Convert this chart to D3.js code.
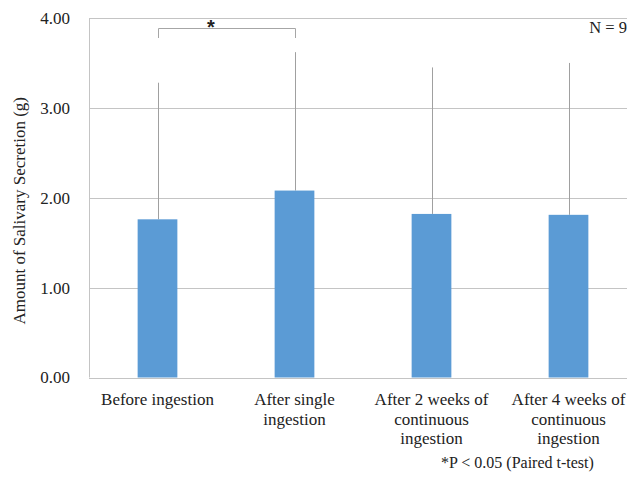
<!DOCTYPE html>
<html>
<head>
<meta charset="utf-8">
<script src="https://cdn.jsdelivr.net/npm/d3@7"></script>
<style>
  body { margin: 0; background: #fff; }
  svg text { font-family: "Liberation Serif", "Times New Roman", serif; fill: #222; }
</style>
</head>
<body>
<svg id="chart" width="627" height="478"></svg>
<script>
// chart data
var categories = [
  ['Before ingestion'],
  ['After single', 'ingestion'],
  ['After 2 weeks of', 'continuous', 'ingestion'],
  ['After 4 weeks of', 'continuous', 'ingestion']
];
var means = [1.76, 2.08, 1.82, 1.81];
var sds = [1.52, 1.54, 1.63, 1.69];
var yTicks = [0, 1, 2, 3, 4];

var svg = d3.select('#chart');
var plotLeft = 89, plotTop = 18, plotRight = 637, plotBottom = 377.5;

var x = d3.scaleBand()
  .domain(d3.range(categories.length))
  .range([plotLeft, plotRight])
  .paddingInner(0.71)
  .paddingOuter(0.355);

var y = d3.scaleLinear().domain([0, 4]).range([plotBottom, plotTop]);

function cx(i) {
  return Math.round(x(i) + x.bandwidth() / 2) + 0.5;
}

//gridlines
svg.append('g')
  .selectAll('line')
  .data(yTicks)
  .enter().append('line')
  .attr('x1', plotLeft)
  .attr('x2', plotRight)
  .attr('y1', function(d) { return Math.round(y(d)) + 0.5; })
  .attr('y2', function(d) { return Math.round(y(d)) + 0.5; })
  .attr('stroke', '#c4c4c4')
  .attr('stroke-width', 1);

//left border
svg.append('line')
  .attr('x1', plotLeft + 0.5).attr('x2', plotLeft + 0.5)
  .attr('y1', y(4)).attr('y2', y(0))
  .attr('stroke', '#c4c4c4');

//y axis labels
var yAxis = d3.axisLeft(y).tickValues(yTicks).tickFormat(d3.format('.2f')).tickSize(0).tickPadding(19);
var yG = svg.append('g').attr('transform', 'translate(' + plotLeft + ',0)').call(yAxis);
yG.select('.domain').remove();
yG.selectAll('text').style('font-size', '17px').style('font-family', '"Liberation Serif", serif').attr('fill', '#222');

//error bars (upper only)
svg.append('g')
  .selectAll('line')
  .data(means)
  .enter().append('line')
  .attr('x1', function(d, i) { return cx(i); })
  .attr('x2', function(d, i) { return cx(i); })
  .attr('y1', function(d) { return y(d); })
  .attr('y2', function(d, i) { return y(d + sds[i]); })
  .attr('stroke', '#a0a0a0')
  .attr('stroke-width', 1);

//bars
svg.append('g')
  .selectAll('rect')
  .data(means)
  .enter().append('rect')
  .attr('x', function(d, i) { return x(i); })
  .attr('width', x.bandwidth())
  .attr('y', function(d) { return y(d); })
  .attr('height', function(d) { return y(0) - y(d); })
  .attr('fill', '#5b9bd5');

//x labels
var xl = svg.append('g')
  .selectAll('text')
  .data(categories)
  .enter().append('text')
  .attr('text-anchor', 'middle')
  .style('font-size', '17px');
xl.each(function(lines, i) {
  var t = d3.select(this);
  lines.forEach(function(s, k) {
    t.append('tspan')
      .attr('x', x(i) + x.bandwidth() / 2)
      .attr('y', 405 + k * 19.5)
      .text(s);
  });
});

//y title
svg.append('text')
  .attr('transform', 'translate(25,' + ((plotTop + plotBottom) / 2 + 13) + ') rotate(-90)')
  .attr('text-anchor', 'middle')
  .style('font-size', '17px')
  .text('Amount of Salivary Secretion (g)');

//significance bracket
var bx1 = cx(0), bx2 = cx(1);
svg.append('path')
  .attr('d', 'M' + bx1 + ',38V28.5H' + bx2 + 'V38')
  .attr('fill', 'none')
  .attr('stroke', '#a6a6a6')
  .attr('stroke-width', 1);
svg.append('text')
  .attr('x', 211)
  .attr('y', 34)
  .attr('text-anchor', 'middle')
  .style('font-family', '"Liberation Sans", Arial, sans-serif')
  .style('font-weight', 'bold')
  .style('font-size', '20px')
  .text('*');

svg.append('text')
  .attr('x', 627)
  .attr('y', 33)
  .attr('text-anchor', 'end')
  .style('font-size', '16.5px')
  .text('N = 9');

svg.append('text')
  .attr('x', 441)
  .attr('y', 468)
  .style('font-size', '16px')
  .text('*P < 0.05 (Paired t-test)');
</script>
</body>
</html>
